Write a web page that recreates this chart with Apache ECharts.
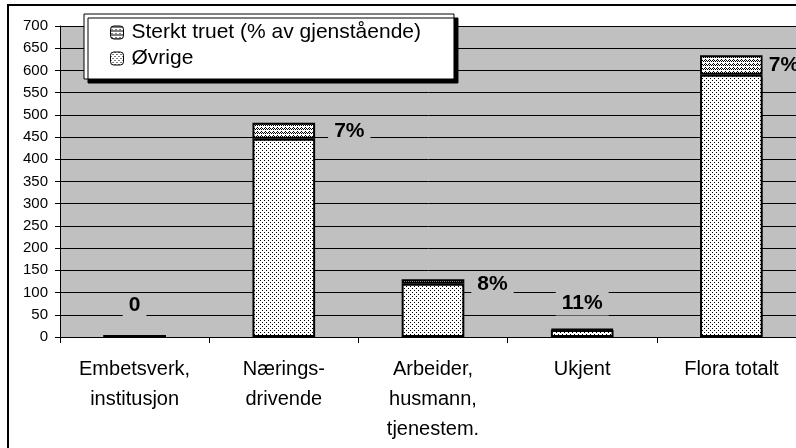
<!DOCTYPE html>
<html>
<head>
<meta charset="utf-8">
<script src="https://cdn.jsdelivr.net/npm/echarts@6/dist/echarts.min.js"></script>
<style>
  html, body { margin: 0; padding: 0; background: #fff; }
  #chart { width: 796px; height: 448px; }
</style>
</head>
<body>
<div id="chart"></div>
<script>
// data
const categories = ['Embetsverk,\ninstitusjon', 'Nærings-\ndrivende', 'Arbeider,\nhusmann,\ntjenestem.', 'Ukjent', 'Flora totalt']
const ovrige = [2, 446, 120, 16, 590]
const sterktTruet = [0, 36, 10, 2, 44]
const pctLabels = ['0', '7%', '8%', '11%', '7%']
const seriesNames = ['Sterkt truet (% av gjenstående)', 'Øvrige']

// pattern fills (like the old excel hatching)
const makePattern = (dots) => {
    const c = document.createElement('canvas')
    c.width = 4
    c.height = 4
    const ctx = c.getContext('2d')
    ctx.fillStyle = '#fff'
    ctx.fillRect(0, 0, 4, 4)
    ctx.fillStyle = '#000'
    dots.forEach(d => ctx.fillRect(d[0], d[1], 1, 1))
    return { image: c, repeat: 'repeat' }
}
const dotFill = makePattern([[0, 0], [2, 2]])
const waveFill = makePattern([[0, 0], [1, 1], [2, 0], [3, 1], [1, 3]])

// label placement per bar
const labelPos = [
    { position: 'top', distance: 17 },
    { position: 'right', distance: 13 },
    { position: 'right', distance: 7, offset: [0, 3] },
    { position: 'top', distance: 13 },
    { position: 'right', distance: 0 }
]

const chart = echarts.init(document.getElementById('chart'))

const option = {
    animation: false,
    textStyle: { fontFamily: 'Liberation Sans, Arial, sans-serif' },
    graphic: [
        {
            type: 'rect',
            shape: { x: 8, y: 5, width: 800, height: 460 },
            style: { fill: 'none', stroke: '#000', lineWidth: 2 },
            z: 100
        }
    ],
    grid: {
        left: 60,
        top: 26,
        right: -10,
        bottom: 111,
        show: true,
        backgroundColor: '#c0c0c0',
        borderWidth: 0,
        outerBoundsMode: 'none'
    },
    legend: {
        orient: 'vertical',
        left: 84,
        top: 14,
        padding: [8, 33, 10, 26],
        itemGap: 5,
        itemWidth: 13,
        itemHeight: 13,
        backgroundColor: '#fff',
        borderColor: '#000',
        borderWidth: 1,
        shadowColor: '#000',
        shadowOffsetX: 4,
        shadowOffsetY: 4,
        shadowBlur: 0,
        textStyle: { fontSize: 21, color: '#000', padding: [0, 0, 0, 3] },
        data: seriesNames,
        itemStyle: { borderColor: '#000', borderWidth: 1 }
    },
    xAxis: {
        type: 'category',
        data: categories,
        axisLine: { lineStyle: { color: '#000', width: 1 } },
        axisTick: { show: true, length: 6, lineStyle: { color: '#000' } },
        axisLabel: {
            color: '#000',
            fontSize: 20,
            lineHeight: 30,
            margin: 17,
            interval: 0
        }
    },
    yAxis: {
        type: 'value',
        min: 0,
        max: 700,
        interval: 50,
        axisLine: { show: true, lineStyle: { color: '#000' } },
        axisTick: { show: true, length: 5, lineStyle: { color: '#000' } },
        axisLabel: {
            color: '#000',
            fontSize: 15,
            margin: 12
        },
        splitLine: { lineStyle: { color: '#000', width: 1 } }
    },
    series: [
        {
            name: seriesNames[1],
            type: 'bar',
            stack: 'total',
            barWidth: '42%',
            data: ovrige,
            itemStyle: { color: dotFill, borderColor: '#000', borderWidth: 2 },
            z: 3
        },
        {
            name: seriesNames[0],
            type: 'bar',
            stack: 'total',
            barWidth: '42%',
            data: sterktTruet.map((v, i) => ({
                value: v,
                label: Object.assign({}, labelPos[i])
            })),
            itemStyle: { color: waveFill, borderColor: '#000', borderWidth: 2 },
            label: {
                show: true,
                formatter: p => pctLabels[p.dataIndex],
                fontSize: 21,
                fontWeight: 'bold',
                color: '#000',
                backgroundColor: '#c0c0c0',
                padding: [2, 6]
            },
            z: 3
        }
    ]
}

chart.setOption(option)
</script>
</body>
</html>
